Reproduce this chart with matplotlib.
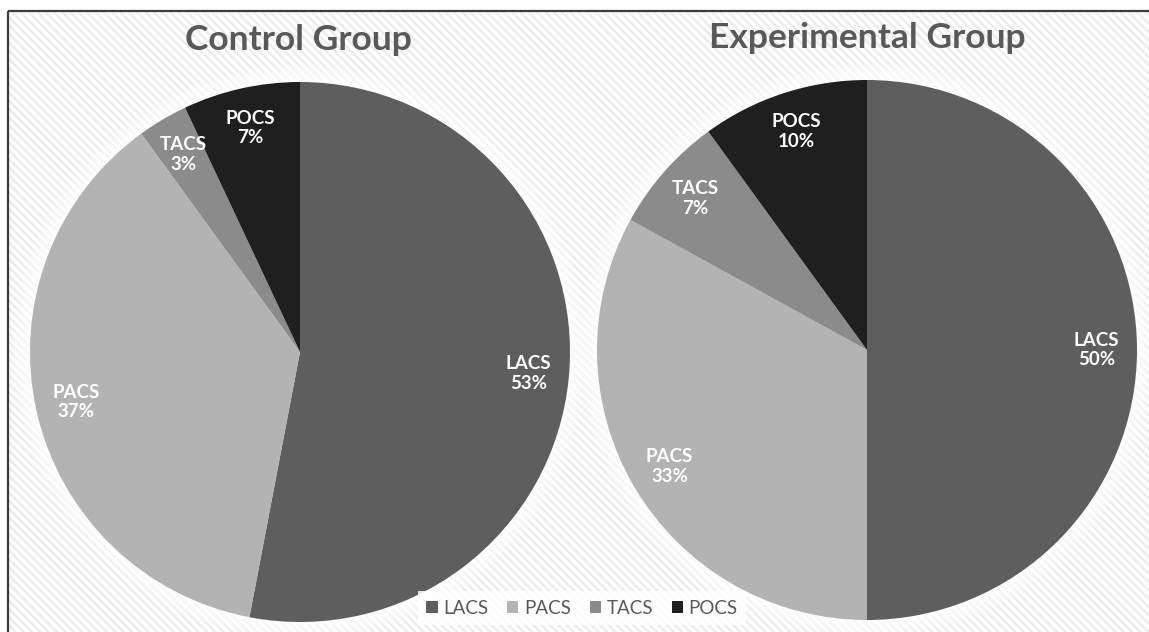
import matplotlib
matplotlib.use("Agg")
import matplotlib.pyplot as plt
from matplotlib.patches import Rectangle, Circle

plt.rcParams['font.family'] = ['Lato', 'DejaVu Sans']
plt.rcParams['hatch.linewidth'] = 1.8

# stroke subtypes, percent of patients in each group
categories = ["LACS", "PACS", "TACS", "POCS"]
control = [53, 37, 3, 7]
experimental = [50, 33, 7, 10]
titles = ["Control Group", "Experimental Group"]

colors = ["#5e5e5e", "#b3b3b3", "#8b8b8b", "#1f1f1f"]

W, H = 1149, 632
fig = plt.figure(figsize=(W / 100, H / 100), dpi=100)

# striped background with a dark frame
bg = fig.add_axes([0, 0, 1, 1])
bg.set_xlim(0, W)
bg.set_ylim(H, 0)
bg.axis("off")
bg.add_patch(Rectangle((8, 11), W + 20, H + 20, facecolor="white",
                       edgecolor="#ececec", linewidth=0, hatch="\\\\\\\\"))
bg.add_patch(Rectangle((8, 11), W + 20, H + 20, facecolor="none",
                       edgecolor="#3c3c3c", linewidth=1.6))


def draw_pie(rect, values, title, title_xy):
    ax = fig.add_axes(rect)
    ax.set_facecolor("none")
    # soft white glow around the pie
    for k in range(8):
        ax.add_patch(Circle((0, 0), 1.0 + 0.008 * (8 - k), facecolor="white",
                            edgecolor="none", alpha=0.18, zorder=0, clip_on=False))
    labels = [f"{c}\n{v}%" for c, v in zip(categories, values)]
    wedges, texts = ax.pie(values, labels=labels, colors=colors, startangle=90,
                           counterclock=False, radius=1, labeldistance=0.85,
                           wedgeprops=dict(linewidth=0, zorder=1),
                           textprops=dict(color="white", fontsize=13.5,
                                          fontweight="bold"))
    for t in texts:
        t.set_ha("center")
        t.set_va("center")
        t.set_linespacing(1.2)
    ax.set_xlim(-1, 1)
    ax.set_ylim(-1, 1)
    fig.text(title_xy[0] / W, 1 - title_xy[1] / H, title, ha="center", va="center",
             fontsize=25.5, fontweight="bold", color="#595959")
    return wedges


wedges = draw_pie([30 / W, 10 / H, 540 / W, 540 / H], control, titles[0], (298, 40))
draw_pie([597 / W, 12 / H, 540 / W, 540 / H], experimental, titles[1], (867, 38))

leg = fig.legend(wedges, categories, loc="center", bbox_to_anchor=(582 / W, 1 - 608 / H),
                 ncol=4, frameon=True, fontsize=13.5, handlelength=0.6,
                 handleheight=0.6, handletextpad=0.3, columnspacing=1.0,
                 borderpad=0.45, fancybox=False)
leg.get_frame().set_facecolor("white")
leg.get_frame().set_edgecolor("none")
leg.get_frame().set_alpha(0.85)
for t in leg.get_texts():
    t.set_color("#595959")

fig.savefig("out.png", dpi=100)
